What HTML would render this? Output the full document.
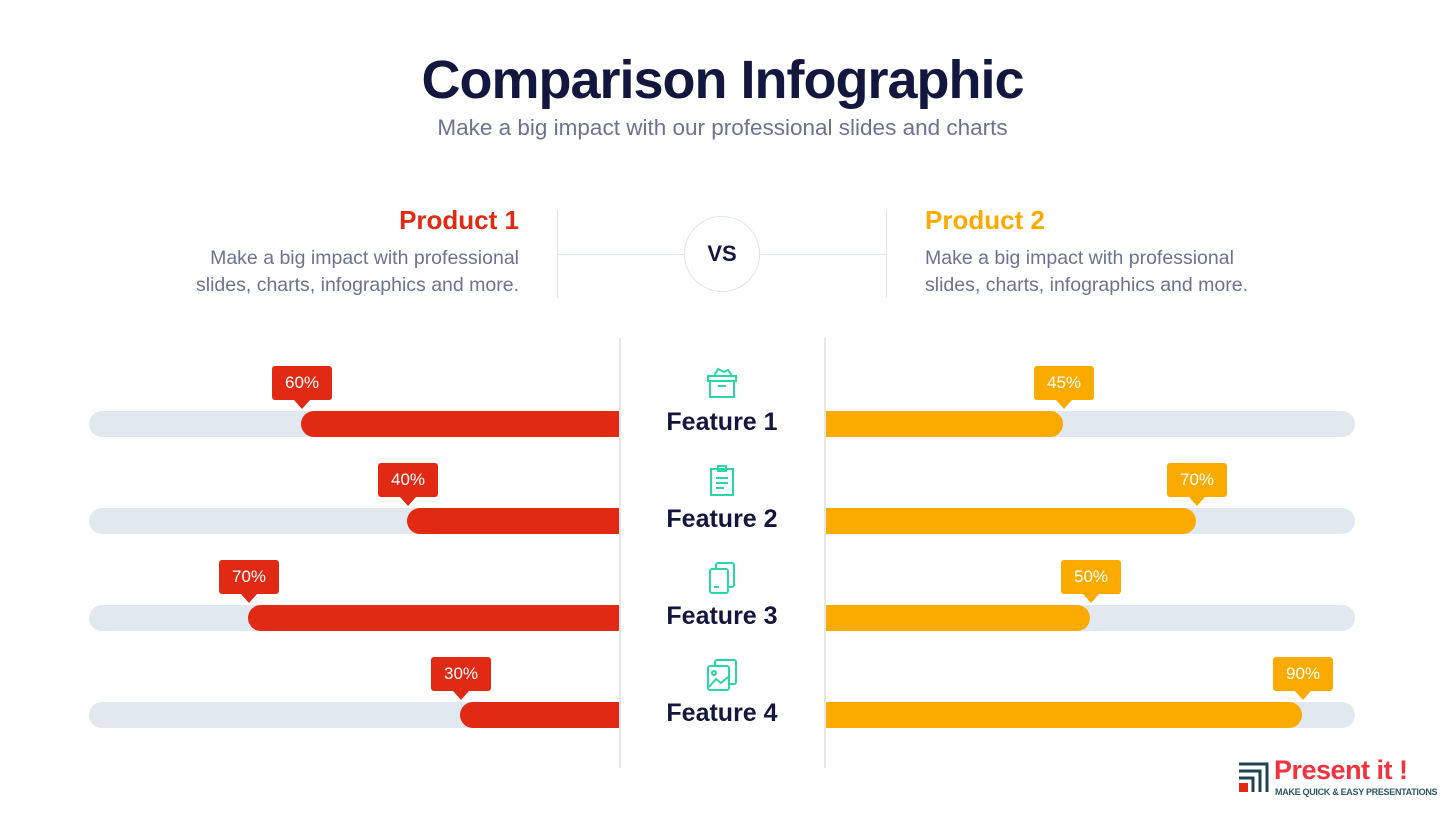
<!DOCTYPE html>
<html><head><meta charset="utf-8"><style>
body{margin:0;width:1445px;height:814px;background:#fff;position:relative;overflow:hidden;font-family:"Liberation Sans",sans-serif}
.a{position:absolute}
.track{position:absolute;height:26px;background:#e1e8ef;border-radius:13px}
.bar{position:absolute;height:26px;border-radius:13px}
.lbl{position:absolute;width:60px;height:34px;border-radius:3px;color:#fff;font-size:17px;line-height:34px;text-align:center}
.lbl:after{content:"";position:absolute;left:22px;top:34px;border:8px solid transparent;border-top:9px solid;border-top-color:inherit}
.feat{position:absolute;left:622px;width:200px;text-align:center;font-weight:bold;font-size:25px;color:#13163d}
</style></head><body>
<div class="a" style="left:0;width:1445px;top:49px;text-align:center;font-size:54px;font-weight:bold;color:#13163d;letter-spacing:-1px">Comparison Infographic</div>
<div class="a" style="left:0;width:1445px;top:115px;text-align:center;font-size:22.5px;color:#6b7390">Make a big impact with our professional slides and charts</div>

<div class="a" style="right:926px;top:205px;font-size:26px;font-weight:bold;color:#e02a14">Product 1</div>
<div class="a" style="right:926px;top:245px;font-size:19.5px;line-height:27px;color:#6b7390;text-align:right;white-space:nowrap">Make a big impact with professional<br>slides, charts, infographics and more.</div>
<div class="a" style="left:925px;top:205px;font-size:26px;font-weight:bold;color:#fbab00">Product 2</div>
<div class="a" style="left:925px;top:245px;font-size:19.5px;line-height:27px;color:#6b7390;white-space:nowrap">Make a big impact with professional<br>slides, charts, infographics and more.</div>
<div class="a" style="left:557px;top:210px;width:1px;height:88px;background:#dfe5ec"></div>
<div class="a" style="left:886px;top:210px;width:1px;height:88px;background:#dfe5ec"></div>
<div class="a" style="left:557px;top:254px;width:330px;height:1px;background:#dfe5ec"></div>
<div class="a" style="left:684px;top:216px;width:74px;height:74px;border:1.5px solid #dfe5ec;border-radius:50%;background:#fff;text-align:center;line-height:74px;font-weight:bold;font-size:22px;color:#13163d">VS</div>

<div class="track" style="left:89px;top:411px;width:545px"></div>
<div class="bar" style="left:301px;top:411px;width:330px;background:#e02a14"></div>
<div class="track" style="left:810px;top:411px;width:545px"></div>
<div class="bar" style="left:812px;top:411px;width:251px;background:#fbab00"></div>
<div class="lbl" style="left:272px;top:366px;background:#e02a14;border-color:#e02a14">60%</div>
<div class="lbl" style="left:1034px;top:366px;background:#fbab00;border-color:#fbab00">45%</div>

<div class="track" style="left:89px;top:508px;width:545px"></div>
<div class="bar" style="left:407px;top:508px;width:224px;background:#e02a14"></div>
<div class="track" style="left:810px;top:508px;width:545px"></div>
<div class="bar" style="left:812px;top:508px;width:384px;background:#fbab00"></div>
<div class="lbl" style="left:378px;top:463px;background:#e02a14;border-color:#e02a14">40%</div>
<div class="lbl" style="left:1167px;top:463px;background:#fbab00;border-color:#fbab00">70%</div>

<div class="track" style="left:89px;top:605px;width:545px"></div>
<div class="bar" style="left:248px;top:605px;width:383px;background:#e02a14"></div>
<div class="track" style="left:810px;top:605px;width:545px"></div>
<div class="bar" style="left:812px;top:605px;width:278px;background:#fbab00"></div>
<div class="lbl" style="left:219px;top:560px;background:#e02a14;border-color:#e02a14">70%</div>
<div class="lbl" style="left:1061px;top:560px;background:#fbab00;border-color:#fbab00">50%</div>

<div class="track" style="left:89px;top:702px;width:545px"></div>
<div class="bar" style="left:460px;top:702px;width:171px;background:#e02a14"></div>
<div class="track" style="left:810px;top:702px;width:545px"></div>
<div class="bar" style="left:812px;top:702px;width:490px;background:#fbab00"></div>
<div class="lbl" style="left:431px;top:657px;background:#e02a14;border-color:#e02a14">30%</div>
<div class="lbl" style="left:1273px;top:657px;background:#fbab00;border-color:#fbab00">90%</div>

<div class="a" style="left:621px;top:338px;width:203px;height:430px;background:#fff"></div>
<div class="a" style="left:619px;top:338px;width:1.5px;height:430px;background:#e3e8ee"></div>
<div class="a" style="left:824px;top:338px;width:1.5px;height:430px;background:#e3e8ee"></div>

<svg class="a" style="left:706px;top:366px" width="32" height="34" fill="none" stroke="#2ad6a6" stroke-width="2"><rect x="2" y="10" width="28" height="5"/><rect x="4" y="15" width="24" height="16"/><line x1="12" y1="20" x2="20" y2="20"/><path d="M8 10 L12 3 L18 6 L22 4 L26 10"/></svg>
<svg class="a" style="left:708px;top:464px" width="28" height="34" fill="none" stroke="#2ad6a6" stroke-width="2"><rect x="3" y="5" width="22" height="26"/><rect x="10" y="2" width="8" height="5"/><line x1="8" y1="14" x2="20" y2="14"/><line x1="8" y1="19" x2="20" y2="19"/><line x1="8" y1="24" x2="16" y2="24"/></svg>
<svg class="a" style="left:707px;top:561px" width="30" height="34" fill="none" stroke="#2ad6a6" stroke-width="2"><rect x="9" y="2" width="18" height="24" rx="2"/><rect x="3" y="8" width="18" height="24" rx="2" fill="#fff"/><line x1="7" y1="26" x2="12" y2="26"/></svg>
<svg class="a" style="left:706px;top:658px" width="32" height="34" fill="none" stroke="#2ad6a6" stroke-width="2"><rect x="9" y="2" width="21" height="24" rx="2"/><rect x="2" y="8" width="21" height="24" rx="2" fill="#fff"/><circle cx="8" cy="15" r="2"/><path d="M3 29 L10 21 L15 25 L22 19"/></svg>

<div class="feat" style="top:408px">Feature 1</div>
<div class="feat" style="top:505px">Feature 2</div>
<div class="feat" style="top:602px">Feature 3</div>
<div class="feat" style="top:699px">Feature 4</div>

<svg class="a" style="left:1237px;top:760px" width="34" height="34"><path d="M2 4 H30 V32" fill="none" stroke="#1f4350" stroke-width="3"/><path d="M2 11 H23 V32" fill="none" stroke="#1f4350" stroke-width="3"/><path d="M2 18 H16 V32" fill="none" stroke="#1f4350" stroke-width="3"/><rect x="2" y="23" width="9" height="9" fill="#e02a14"/></svg>
<div class="a" style="left:1274px;top:755px;font-size:27px;font-weight:bold;color:#f2323c;letter-spacing:-0.5px;white-space:nowrap">Present it !</div>
<div class="a" style="left:1275px;top:787px;font-size:9px;font-weight:bold;color:#2e5a62;letter-spacing:-0.3px;white-space:nowrap">MAKE QUICK &amp; EASY PRESENTATIONS</div>
</body></html>
